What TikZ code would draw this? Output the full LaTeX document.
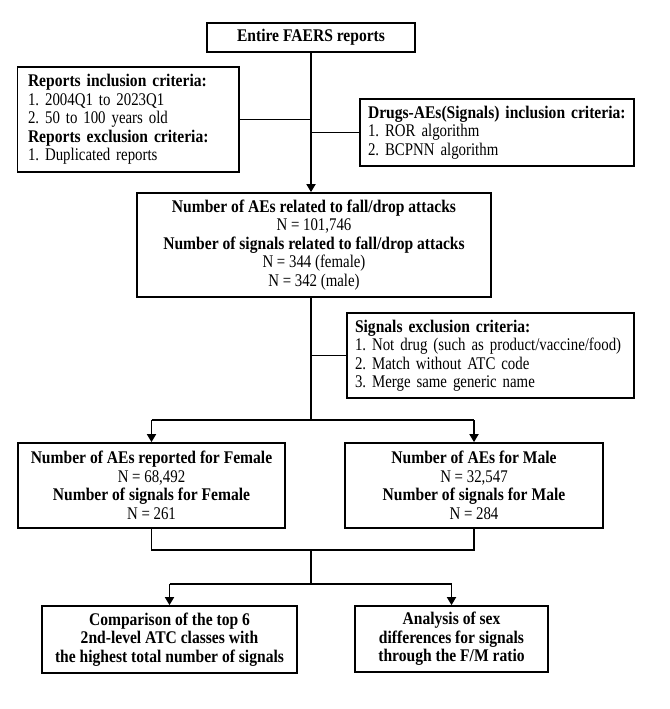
\documentclass[tikz,border=0pt]{standalone}
\usepackage{fontspec}
\setmainfont{Liberation Serif}[FakeStretch=0.835, BoldFeatures={FakeStretch=0.875}]
\usetikzlibrary{arrows.meta}
\frenchspacing
\begin{document}
\begin{tikzpicture}[x=1pt,y=-1pt,
  every node/.style={font=\fontsize{17.8}{18.5}\selectfont},
  cbox/.style={draw, line width=1.7pt, align=center, inner sep=0pt},
  lbox/.style={draw, line width=1.7pt, align=left, inner ysep=0pt},
  conn/.style={line width=1.7pt},
  arr/.style={line width=1.7pt, -{Triangle[width=9pt,length=8pt]}}]
\useasboundingbox (0,0) rectangle (669,709);
\node[cbox, minimum width=208pt, minimum height=29pt] (b1) at (311,37.5) {\textbf{Entire FAERS reports}};
\node[lbox, inner xsep=10.5pt, text width=200.5pt, minimum height=105pt] (incl) at (128.25,119.5)
  {\mbox{\textbf{Reports inclusion criteria:}}\\\mbox{1. 2004Q1 to 2023Q1}\\\mbox{2. 50 to 100 years old}\\\mbox{\textbf{Reports exclusion criteria:}}\\\mbox{1. Duplicated reports}};
\node[lbox, inner xsep=8pt, text width=258pt, minimum height=67pt] (drug) at (497,132.5)
  {\mbox{\textbf{Drugs-AEs(Signals) inclusion criteria:}}\\\mbox{1. ROR algorithm}\\\mbox{2. BCPNN algorithm}};
\node[cbox, minimum width=354pt, minimum height=104pt] (b2) at (314,245)
  {\textbf{Number of AEs related to fall/drop attacks}\\N = 101,746\\\textbf{Number of signals related to fall/drop attacks}\\N = 344 (female)\\N = 342 (male)};
\node[lbox, inner xsep=8pt, text width=271pt, minimum height=85pt] (sig) at (490.5,355.5)
  {\mbox{\textbf{Signals exclusion criteria:}}\\\mbox{1. Not drug (such as product/vaccine/food)}\\\mbox{2. Match without ATC code}\\\mbox{3. Merge same generic name}};
\node[cbox, minimum width=267pt, minimum height=85pt] (fem) at (151.5,485.5)
  {\textbf{Number of AEs reported for Female}\\N = 68,492\\\textbf{Number of signals for Female}\\N = 261};
\node[cbox, minimum width=258pt, minimum height=85pt] (male) at (474,485.5)
  {\textbf{Number of AEs for Male}\\N = 32,547\\\textbf{Number of signals for Male}\\N = 284};
\node[cbox, minimum width=255pt, minimum height=67pt] (cmp) at (169.5,639.5)
  {\textbf{Comparison of the top 6}\\\textbf{2nd-level ATC classes with}\\\textbf{the highest total number of signals}};
\node[cbox, minimum width=193pt, minimum height=66pt] (ana) at (451.5,639)
  {\textbf{Analysis of sex}\\\textbf{differences for signals}\\\textbf{through the F/M ratio}};
\coordinate (s1) at (311,420);
\coordinate (s2) at (311,550);
\coordinate (s3) at (311,584);
\draw[arr] (b1.south) -- (b1.south |- b2.north);
\draw[conn] (incl.east) -- (incl.east -| b1.south);
\draw[conn] (drug.west) -- (drug.west -| b1.south);
\draw[conn] (b2.south -| s1) -- (s1);
\draw[conn] (sig.west) -- (sig.west -| s1);
\draw[conn] (fem.north |- s1) -- (male.north |- s1);
\draw[arr] (fem.north |- s1) -- (fem.north);
\draw[arr] (male.north |- s1) -- (male.north);
\draw[conn] (fem.south) -- (fem.south |- s2) -- (male.south |- s2) -- (male.south);
\draw[conn] (s2) -- (s3);
\draw[conn] (cmp.north |- s3) -- (ana.north |- s3);
\draw[arr] (cmp.north |- s3) -- (cmp.north);
\draw[arr] (ana.north |- s3) -- (ana.north);
\end{tikzpicture}
\end{document}
